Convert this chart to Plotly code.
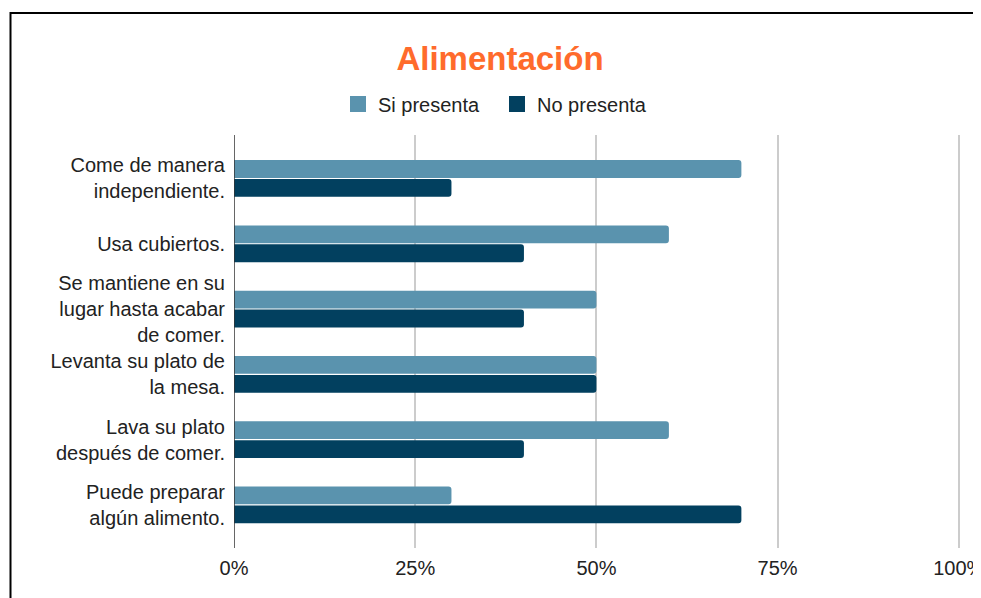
import plotly.graph_objects as go

categories = [
    "Come de manera<br>independiente.",
    "Usa cubiertos.",
    "Se mantiene en su<br>lugar hasta acabar<br>de comer.",
    "Levanta su plato de<br>la mesa.",
    "Lava su plato<br>después de comer.",
    "Puede preparar<br>algún alimento.",
]
si_presenta = [70, 60, 50, 50, 60, 30]
no_presenta = [30, 40, 40, 50, 40, 70]
x_ticks = [0, 25, 50, 75, 100]
x_tick_labels = ["0%", "25%", "50%", "75%", "100%"]

SI_COLOR = "#5a93ae"
NO_COLOR = "#02405f"

pos = list(range(len(categories)))
W, H = 973, 590
L, R, T, B = 226, 20, 127, 50
pw = W - L - R
ph = H - T - B

fig = go.Figure()
fig.add_trace(go.Bar(y=pos, x=si_presenta, orientation="h", name="Si presenta",
                     marker=dict(color=SI_COLOR, line=dict(width=0)), showlegend=False))
fig.add_trace(go.Bar(y=pos, x=no_presenta, orientation="h", name="No presenta",
                     marker=dict(color=NO_COLOR, line=dict(width=0)), showlegend=False))
# legend entries with larger square swatches
for name, col in [("Si presenta", SI_COLOR), ("No presenta", NO_COLOR)]:
    fig.add_trace(go.Scatter(x=[None], y=[None], mode="markers", name=name,
                             marker=dict(symbol="square", size=19, color=col,
                                         line=dict(width=0))))

fig.update_layout(
    width=W, height=H,
    margin=dict(l=L, r=R, t=T, b=B, autoexpand=False),
    paper_bgcolor="white", plot_bgcolor="white",
    font=dict(family="Liberation Sans, Arial, sans-serif", size=20, color="#222222"),
    barmode="group", bargap=0.42, bargroupgap=0.06, barcornerradius=3,
    title=dict(text="<b>Alimentación</b>", font=dict(size=33, color="#ff6b2c"),
               xref="container", x=492 / W, xanchor="center",
               yref="container", y=1 - 50 / H, yanchor="middle"),
    legend=dict(orientation="h", xref="container", x=330 / W, xanchor="left",
                yref="container", y=1 - 96 / H, yanchor="middle",
                font=dict(size=20, color="#222222"), itemwidth=30,
                entrywidth=114, traceorder="normal"),
    xaxis=dict(range=[0, 100.3], tickvals=x_ticks, ticktext=x_tick_labels,
               showgrid=True, gridcolor="#cccccc", gridwidth=1.5,
               zeroline=False, showline=False, ticks="", ticklen=0,
               ticklabelstandoff=6, ticklabeloverflow="allow",
               tickfont=dict(size=20, color="#222222")),
    yaxis=dict(range=[5.66, -0.666], tickvals=pos, ticktext=categories,
               showgrid=False, zeroline=False, showline=False, ticks="",
               ticklabelstandoff=8,
               tickfont=dict(size=20, color="#222222")),
    shapes=[
        dict(type="line", xref="x", yref="paper", x0=0, x1=0, y0=0, y1=1,
             line=dict(color="#333333", width=1.5), layer="above"),
        dict(type="rect", xref="paper", yref="paper",
             x0=(2.5 - L) / pw, x1=(W + 30 - L) / pw,
             y0=(H - B - (H + 30)) / ph, y1=(H - B - 5) / ph,
             line=dict(color="black", width=2), fillcolor="rgba(0,0,0,0)"),
    ],
)

fig.write_html("out.html")
